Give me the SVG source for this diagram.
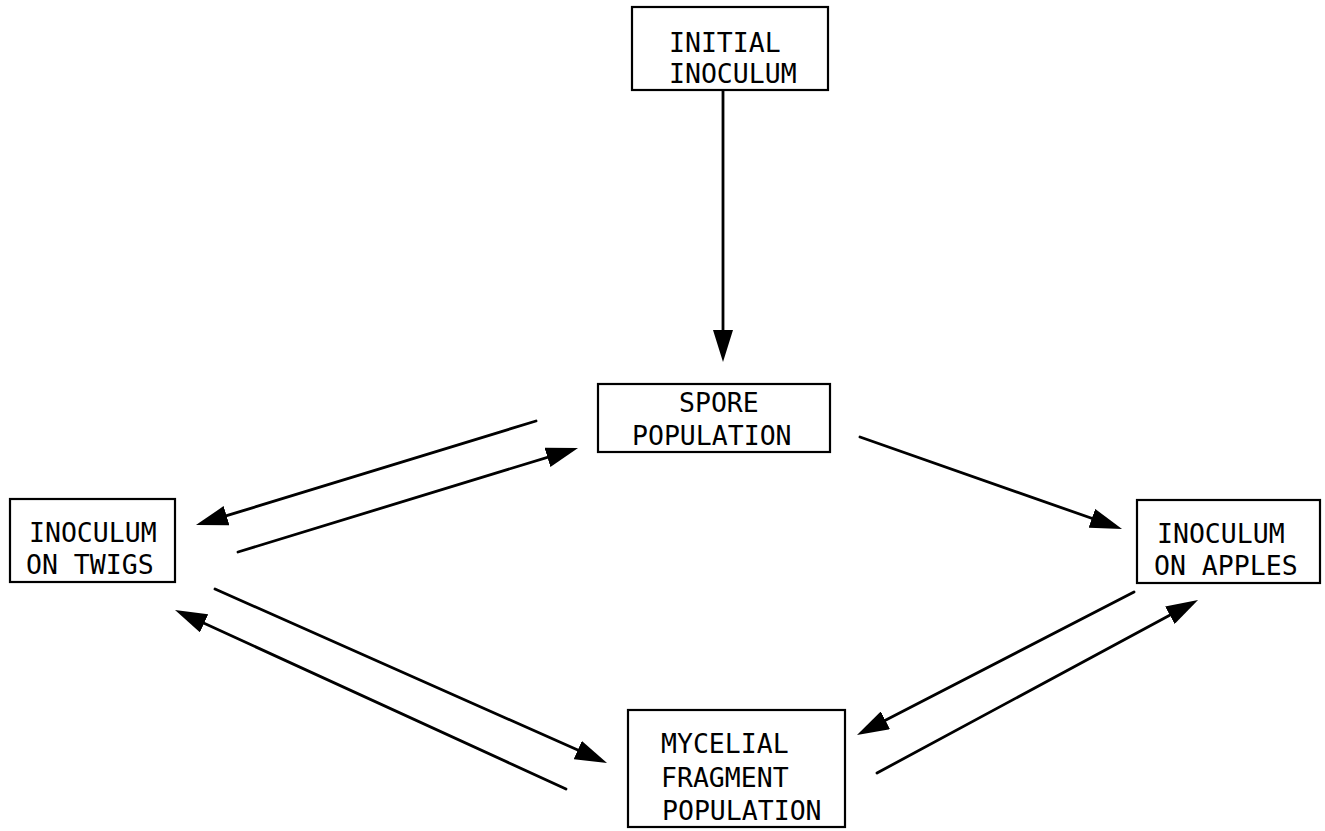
<svg xmlns="http://www.w3.org/2000/svg" width="1325" height="831" viewBox="0 0 1325 831">
  <style>
    .box { fill: #ffffff; stroke: #000000; stroke-width: 2.2; }
    .label { font-family: "DejaVu Sans Mono", "Liberation Mono", monospace; font-size: 26.5px; fill: #000000; }
    .edge { stroke: #000000; stroke-width: 2.8; fill: none; stroke-linecap: round; marker-end: url(#head); }
  </style>
  <defs>
    <marker id="head" viewBox="0 0 32 20" refX="24" refY="10" markerWidth="32" markerHeight="20" markerUnits="userSpaceOnUse" orient="auto">
      <path d="M0,0 L32,10 L0,20 z" fill="#000000"/>
    </marker>
  </defs>
  <rect width="1325" height="831" fill="#ffffff"/>

  <!-- connectors -->
  <g id="connectors">
    <line class="edge" x1="723" y1="90" x2="723" y2="354"/>
    <line class="edge" x1="536" y1="421" x2="203.6" y2="522.7"/>
    <line class="edge" x1="238" y1="552" x2="570.4" y2="450.3"/>
    <line class="edge" x1="860" y1="437" x2="1114.5" y2="526.3"/>
    <line class="edge" x1="215" y1="589" x2="599.7" y2="759.8"/>
    <line class="edge" x1="566" y1="789" x2="182.3" y2="613.3"/>
    <line class="edge" x1="1134" y1="592" x2="864.1" y2="731.3"/>
    <line class="edge" x1="877" y1="773" x2="1191" y2="603.8"/>
  </g>

  <g id="initial-inoculum">
    <rect class="box" x="632" y="7" width="196" height="83"/>
    <text class="label" x="669" y="52">INITIAL</text>
    <text class="label" x="669" y="83">INOCULUM</text>
  </g>

  <g id="spore-population">
    <rect class="box" x="598" y="384" width="232" height="68"/>
    <text class="label" x="679" y="412">SPORE</text>
    <text class="label" x="632" y="445">POPULATION</text>
  </g>

  <g id="inoculum-twigs">
    <rect class="box" x="10" y="499" width="165" height="83"/>
    <text class="label" x="29" y="542">INOCULUM</text>
    <text class="label" x="26" y="574">ON TWIGS</text>
  </g>

  <g id="inoculum-apples">
    <rect class="box" x="1137" y="500" width="183" height="83"/>
    <text class="label" x="1157" y="543">INOCULUM</text>
    <text class="label" x="1154" y="575">ON APPLES</text>
  </g>

  <g id="mycelial-fragment-population">
    <rect class="box" x="628" y="710" width="217" height="117"/>
    <text class="label" x="661" y="753">MYCELIAL</text>
    <text class="label" x="661" y="787">FRAGMENT</text>
    <text class="label" x="662" y="820">POPULATION</text>
  </g>
</svg>
